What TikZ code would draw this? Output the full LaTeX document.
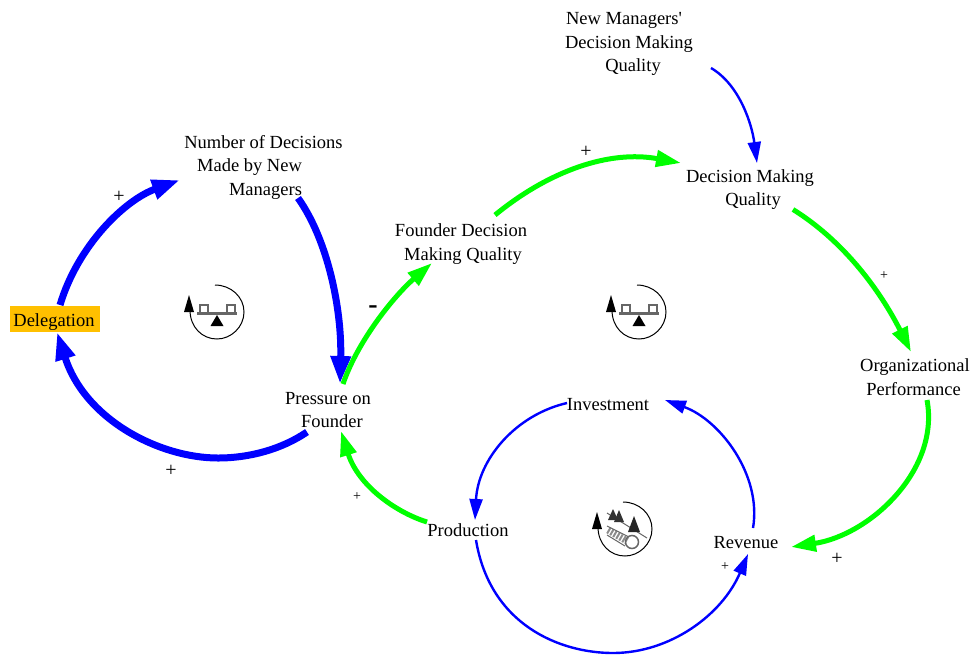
\documentclass[tikz,border=0pt]{standalone}
\usepackage{fontspec}
\setmainfont{Liberation Serif}
\newfontfamily\plainserif{Liberation Serif}
\usetikzlibrary{arrows.meta}
\definecolor{fbgreen}{RGB}{0,255,0}
\definecolor{fbblue}{RGB}{0,0,255}
\definecolor{delegbg}{RGB}{255,192,0}
\tikzset{
  var/.style={align=center,inner sep=2pt,font=\fontsize{18.5}{23.5}\selectfont},
  signbig/.style={inner sep=0pt,font=\fontsize{20}{22}\selectfont},
  signsmall/.style={inner sep=0pt,font=\fontsize{14}{15}\selectfont},
  heavy/.style={line width=7pt,fbblue,-{Stealth[length=28pt,width=19pt,inset=0pt]}},
  link/.style={line width=5pt,fbgreen,-{Stealth[length=25pt,width=16pt,inset=0pt]}},
  thin link/.style={line width=2.4pt,fbblue,-{Stealth[length=21pt,width=13pt,inset=0pt]}},
  loopline/.style={line width=1pt,black},
}
\newcommand{\loopring}[2]{%
  \begin{scope}[shift={(#1,#2)}]
    \draw[loopline] (-2,-27) .. controls (14,-27) and (27,-15) .. (27,0)
      .. controls (27,15) and (14,27) .. (0,27)
      .. controls (-15,27) and (-27,15) .. (-27,-2);
    \fill[black] (-28,-17) -- (-33,0) -- (-23,0) -- cycle;
  \end{scope}}
\newcommand{\seesawmark}[2]{%
  \loopring{#1}{#2}
  \begin{scope}[shift={(#1,#2)}]
    \fill[black!60] (-20,0) rectangle (20,3);
    \draw[black!60,line width=2pt] (-17,0) -- (-17,-7) -- (-9,-7) -- (-9,0);
    \draw[black!60,line width=2pt] (10,0) -- (10,-7) -- (18,-7) -- (18,0);
    \fill[black] (0,3) -- (-6.5,14) -- (6.5,14) -- cycle;
  \end{scope}}
\begin{document}
\begin{tikzpicture}[x=1pt,y=-1pt]
\useasboundingbox (0,0) rectangle (973,654);
\node[var,fill=delegbg,minimum width=90pt,minimum height=26pt,inner sep=0pt,text depth=0pt,text height=0pt] (deleg) at (55,319) {};
\node[var,inner sep=0pt] (delegtext) at (54,322) {Delegation};
\node[var] (num) at (263.5,167) {Number of Decisions\\Made by New\mbox{\hspace{28pt}}\\\mbox{\hspace{4pt}}Managers};
\node[var] (press) at (328,410) {Pressure on\\\mbox{\hspace{8pt}}Founder};
\node[var] (found) at (461,244) {Founder Decision\\\mbox{\hspace{4pt}}Making Quality};
\node[var] (nmdq) at (629,44) {{\plainserif New Managers'}\mbox{\hspace{10pt}}\\Decision Making\\\mbox{\hspace{8pt}}Quality};
\node[var] (dmq) at (750,189.5) {Decision Making\\\mbox{\hspace{6pt}}Quality};
\node[var] (org) at (915,377) {Organizational\\Performance\mbox{\hspace{3pt}}};
\node[var] (inv) at (608,404.5) {Investment};
\node[var] (prod) at (468,530.5) {Production};
\node[var] (rev) at (746,542.5) {Revenue};
\draw[heavy] ([shift={(5,-14)}]deleg.center) .. controls (78,245) and (125,200) .. ([shift={(-83.5,13)}]num.center);
\draw[heavy] ([shift={(34.5,31)}]num.center) .. controls (328,240) and (342,310) .. ([shift={(12,-26)}]press.center);
\draw[heavy] ([shift={(-21,22)}]press.center) .. controls (282,449) and (250,458) .. (218,458) .. controls (160,458) and (85,420) .. ([shift={(2,13)}]deleg.center);
\draw[link] ([shift={(15,-26)}]press.center) .. controls (358,340) and (395,295) .. ([shift={(-29,19)}]found.center);
\draw[link] ([shift={(34,-29)}]found.center) .. controls (550,170) and (610,150) .. ([shift={(-69,-26.5)}]dmq.center);
\draw[thin link] ([shift={(82,24)}]nmdq.center) .. controls (740,85) and (752,125) .. ([shift={(7,-26.5)}]dmq.center);
\draw[link] ([shift={(43,20)}]dmq.center) .. controls (850,245) and (885,300) .. ([shift={(-4,-25)}]org.center);
\draw[link] ([shift={(12,23)}]org.center) .. controls (940,470) and (870,535) .. ([shift={(45,4.5)}]rev.center);
\draw[thin link] ([shift={(7,-14.5)}]rev.center) .. controls (762,475) and (720,420) .. ([shift={(57,-4.5)}]inv.center);
\draw[thin link] ([shift={(-41,-1.5)}]inv.center) .. controls (515,415) and (478,460) .. ([shift={(7,-10.5)}]prod.center);
\draw[thin link] ([shift={(8,9.5)}]prod.center) .. controls (490,625) and (560,653) .. (613,653) .. controls (670,653) and (722,615) .. ([shift={(2,11.5)}]rev.center);
\draw[link] ([shift={(-41,-8.5)}]prod.center) .. controls (395,512) and (358,485) .. ([shift={(13,21)}]press.center);
\node[signbig] (s1) at (119,197) {+};
\node[signbig] (s2) at (171,471) {+};
\node[inner sep=0pt,font=\fontsize{28}{28}\selectfont\bfseries] (s3) at (373,310) {-};
\node[signbig] (s4) at (586,152) {+};
\node[signsmall] (s5) at (884,276) {+};
\node[signbig] (s6) at (837,559) {+};
\node[signsmall] (s7) at (725,567) {+};
\node[signsmall] (s8) at (357,497) {+};
\seesawmark{217}{312}
\seesawmark{639}{312}
\loopring{625}{529}
\begin{scope}[shift={(625,529)}]
  \draw[black!60,line width=1pt] (-18,-16) -- (22,9);
  \fill[black!80] (-12,-20) -- (-17,-9) -- (-7,-9) -- cycle;
  \fill[black!80] (-6,-19) -- (-11,-7) -- (-1,-7) -- cycle;
  \fill[black!85] (9,-13) -- (3,3) -- (15,3) -- cycle;
  \draw[black!45,line width=7pt,dash pattern=on 2pt off 1.5pt] (-17,1) -- (2,12);
  \draw[black!60,line width=1pt] (-18,-3) -- (4,8);
  \draw[black!60,line width=1pt] (-18,6) -- (0,17);
  \draw[black!60,line width=1.5pt] (7,13) circle[radius=6.5pt];
\end{scope}
\end{tikzpicture}
\end{document}
